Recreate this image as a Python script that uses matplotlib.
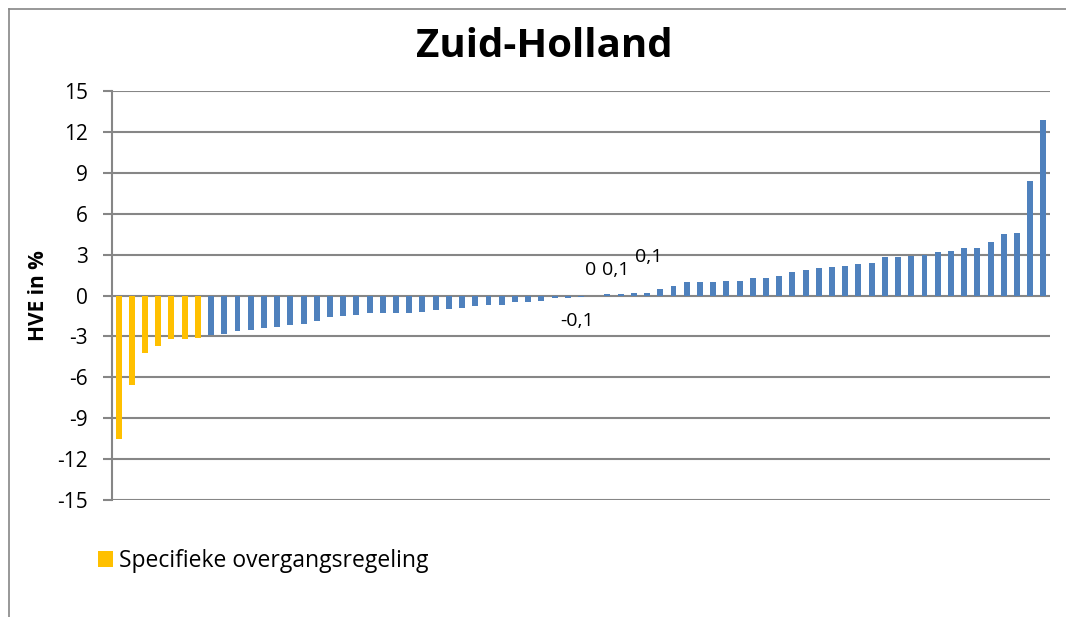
#!/usr/bin/env python3
"""HVE per gemeente, Zuid-Holland, gesorteerd staafdiagram."""

import matplotlib

matplotlib.use("Agg")
import matplotlib.pyplot as plt
from matplotlib.lines import Line2D

plt.rcParams["font.family"] = ["Open Sans", "DejaVu Sans"]

TITLE = "Zuid-Holland"
Y_LABEL = "HVE in %"
LEGEND_LABEL = "Specifieke overgangsregeling"

# HVE values in %, one bar per municipality, sorted ascending
hve_special = [-10.5, -6.6, -4.2, -3.7, -3.2, -3.2, -3.1]
hve_other = [
    -2.9, -2.8, -2.6, -2.5, -2.4, -2.3, -2.2, -2.1, -1.9, -1.6,
    -1.5, -1.4, -1.3, -1.3, -1.3, -1.3, -1.2, -1.1, -1.0, -0.9,
    -0.8, -0.7, -0.7, -0.5, -0.5, -0.4, -0.2, -0.2, -0.1, 0.0,
    0.1, 0.1, 0.2, 0.2, 0.5, 0.7, 1.0, 1.0, 1.0, 1.1,
    1.1, 1.3, 1.3, 1.4, 1.7, 1.9, 2.0, 2.1, 2.2, 2.3,
    2.4, 2.8, 2.8, 2.9, 3.0, 3.2, 3.3, 3.5, 3.5, 3.9,
    4.5, 4.6, 8.4, 12.9,
]
y_ticks = list(range(-15, 16, 3))

# data labels: (bar index, text, x offset, y position)
data_labels = [
    (35, "-0,1", -0.3, -1.9),
    (36, "0", -0.3, 1.9),
    (37, "0,1", 0.6, 1.9),
    (40, "0,1", 0.15, 2.8),
]

YELLOW = "#FFC000"
BLUE = "#4F81BD"
GRID = "#868686"


def main() -> int:
    W, H = 1066, 617
    fig = plt.figure(figsize=(W / 100, H / 100), dpi=100)

    # outer chart border: only top and left edges fall inside the picture
    top = 1 - 8.5 / H
    left = 8.5 / W
    fig.add_artist(Line2D([left, 1.0], [top, top], transform=fig.transFigure,
                          color=GRID, linewidth=1.2))
    fig.add_artist(Line2D([left, left], [0.0, top], transform=fig.transFigure,
                          color=GRID, linewidth=1.2))

    ax = fig.add_axes([112 / W, 1 - 500 / H, (1050 - 112) / W, (500 - 91) / H])

    n_special = len(hve_special)
    values = hve_special + hve_other
    xs = list(range(len(values)))
    ax.bar(xs[:n_special], hve_special, width=0.45, color=YELLOW,
           label=LEGEND_LABEL, zorder=3)
    ax.bar(xs[n_special:], hve_other, width=0.45, color=BLUE, zorder=3)

    ax.set_xlim(-0.5, len(values) - 0.5)
    ax.set_ylim(-15, 15)
    ax.set_yticks(y_ticks)
    ax.set_yticklabels([str(t) for t in y_ticks], fontsize=15)
    ax.set_xticks([])
    ax.yaxis.grid(True, color=GRID, linewidth=1.5, zorder=0)
    for side in ("top", "right", "bottom"):
        ax.spines[side].set_visible(False)
    ax.spines["left"].set_color(GRID)
    ax.spines["left"].set_linewidth(1.5)
    ax.tick_params(axis="y", length=6.5, width=1.5, color=GRID, pad=11)
    ax.set_ylabel(Y_LABEL, fontsize=15, fontweight="bold", labelpad=6)

    for idx, txt, dx, ypos in data_labels:
        ax.text(idx + dx, ypos, txt, ha="center", va="center", fontsize=14)

    fig.text(544 / W, 1 - 57 / H, TITLE, ha="center", va="baseline",
             fontsize=29, fontweight="bold")

    fig.legend(loc="center left", bbox_to_anchor=(98 / W, 1 - 561 / H),
               frameon=False, fontsize=16.5, handlelength=0.65, handleheight=0.65,
               handletextpad=0.28, borderpad=0, borderaxespad=0)

    fig.savefig("out.png", dpi=100)
    plt.close(fig)
    return 0


if __name__ == "__main__":
    raise SystemExit(main())
